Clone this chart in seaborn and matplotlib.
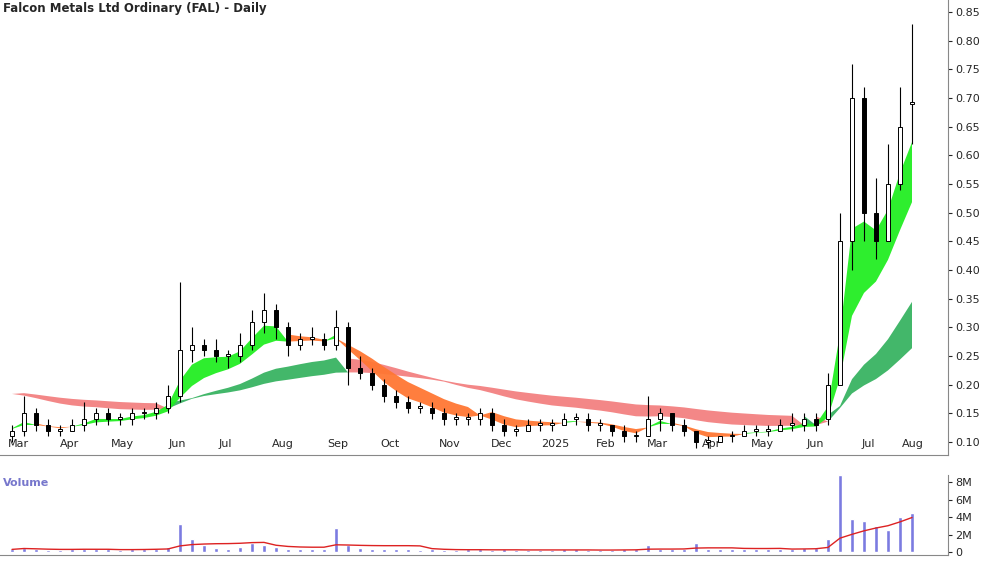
import matplotlib
matplotlib.use("Agg")
import matplotlib.pyplot as plt
import seaborn as sns
import numpy as np
import pandas as pd

# Weekly OHLC (Mar 2024 - Aug 2025)
opens = [0.11,0.12,0.15,0.13,0.12, 0.12,0.13,0.14,0.15, 0.14,0.14,0.15,0.15,0.16,
         0.18,0.26,0.27,0.26, 0.25,0.25,0.27,0.31, 0.33,0.30,0.27,0.28,0.28,
         0.27,0.30,0.23,0.22, 0.20,0.18,0.17,0.16, 0.16,0.15,0.14,0.14,
         0.14,0.15,0.13,0.12, 0.12,0.13,0.13,0.13, 0.14,0.14,0.13,0.13,
         0.12,0.11,0.11,0.14,0.15, 0.13,0.12,0.10,0.10, 0.11,0.11,0.12,0.12,
         0.12,0.13,0.13,0.14, 0.14,0.20,0.45,0.70,0.50, 0.45,0.55,0.69]
highs = [0.13,0.18,0.16,0.14,0.13, 0.14,0.17,0.16,0.16, 0.15,0.16,0.16,0.17,0.20,
         0.38,0.30,0.28,0.28, 0.26,0.29,0.33,0.36, 0.34,0.31,0.29,0.30,0.29,
         0.33,0.31,0.25,0.23, 0.21,0.19,0.18,0.17, 0.17,0.16,0.15,0.15,
         0.16,0.16,0.14,0.13, 0.14,0.14,0.14,0.15, 0.15,0.15,0.14,0.13,
         0.13,0.12,0.18,0.16,0.15, 0.14,0.12,0.11,0.11, 0.12,0.13,0.13,0.13,
         0.14,0.15,0.15,0.15, 0.22,0.50,0.76,0.72,0.56, 0.62,0.72,0.83]
lows  = [0.10,0.11,0.12,0.11,0.11, 0.12,0.12,0.13,0.13, 0.13,0.13,0.14,0.14,0.15,
         0.17,0.24,0.25,0.24, 0.23,0.24,0.26,0.29, 0.28,0.25,0.26,0.27,0.26,
         0.26,0.20,0.21,0.19, 0.17,0.16,0.15,0.15, 0.14,0.13,0.13,0.13,
         0.13,0.12,0.11,0.11, 0.12,0.12,0.12,0.13, 0.13,0.12,0.12,0.11,
         0.10,0.10,0.11,0.12,0.12, 0.11,0.09,0.09,0.10, 0.10,0.11,0.11,0.11,
         0.12,0.12,0.12,0.12, 0.13,0.32,0.40,0.45,0.42, 0.45,0.54,0.62]
closes = [0.12,0.15,0.13,0.12,0.12, 0.13,0.14,0.15,0.14, 0.14,0.15,0.15,0.16,0.18,
          0.26,0.27,0.26,0.25, 0.25,0.27,0.31,0.33, 0.30,0.27,0.28,0.28,0.27,
          0.30,0.23,0.22,0.20, 0.18,0.17,0.16,0.16, 0.15,0.14,0.14,0.14,
          0.15,0.13,0.12,0.12, 0.13,0.13,0.13,0.14, 0.14,0.13,0.13,0.12,
          0.11,0.11,0.14,0.15,0.13, 0.12,0.10,0.10,0.11, 0.11,0.12,0.12,0.12,
          0.13,0.13,0.14,0.13, 0.20,0.45,0.70,0.50,0.45, 0.55,0.65,0.69]
volumes = [0.3,0.5,0.3,0.2,0.2, 0.3,0.4,0.3,0.3, 0.2,0.3,0.3,0.4,0.6,
           3.2,1.5,0.8,0.5, 0.4,0.6,1.0,0.8, 0.6,0.4,0.3,0.3,0.4,
           2.8,0.8,0.5,0.4, 0.3,0.3,0.3,0.2, 0.3,0.2,0.2,0.3,
           0.3,0.2,0.3,0.2, 0.2,0.2,0.2,0.3, 0.3,0.2,0.2,0.2,
           0.3,0.3,0.8,0.4,0.3, 0.3,1.0,0.4,0.3, 0.3,0.3,0.3,0.3,
           0.4,0.4,0.5,0.5, 1.5,8.8,3.8,3.5,3.0, 2.5,4.0,4.5]
month_labels = ["Mar","Apr","May","Jun","Jul","Aug","Sep","Oct","Nov","Dec",
                "2025","Feb","Mar","Apr","May","Jun","Jul","Aug"]
month_px = [18,70,122,177,225,283,338,390,450,502,555,606,657,712,762,815,868,913]

sns.set_style("white")
plt.rcParams['font.family'] = ['DejaVu Sans']

df = pd.DataFrame(dict(o=opens, h=highs, l=lows, c=closes, v=volumes))
x = np.arange(len(df))
seeded = pd.Series([0.125] * 3 + closes)
short = np.array([seeded.ewm(span=k, adjust=False).mean().values[3:] for k in [3.5, 4, 5, 6, 7, 8]])
seeded_l = pd.Series([0.19] * 6 + closes)
long_ = np.array([seeded_l.ewm(span=k, adjust=False).mean().values[6:]
                  for k in [22, 26, 30, 34, 38, 44]])

fig = plt.figure(figsize=(10, 5.62), dpi=100)
ax = fig.add_axes([0.0, 0.19, 0.948, 0.81])
axv = fig.add_axes([0.0, 0.0125, 0.948, 0.142], sharex=ax)

def band(arr, up_c, dn_c, alpha=1):
    lo, hi = arr.min(0), arr.max(0)
    mid = arr.mean(0)
    rising = np.r_[True, np.diff(mid) >= 0]
    ax.fill_between(x, lo, hi, where=rising, color=up_c, interpolate=True, lw=0, alpha=alpha)
    ax.fill_between(x, lo, hi, where=~rising, color=dn_c, interpolate=True, lw=0, alpha=alpha)

band(long_, "#2eaf5a", "#f27a7a", 0.9)
band(short, "#22ee22", "#ff7733", 0.95)

up = df.c >= df.o
ax.vlines(x, df.l, df.h, color="black", lw=0.8, zorder=3)
ax.bar(x[up], (df.c - df.o)[up].clip(lower=0.003), bottom=df.o[up], width=0.35,
       facecolor="white", edgecolor="black", lw=0.7, zorder=4)
ax.bar(x[~up], (df.o - df.c)[~up], bottom=df.c[~up], width=0.35,
       facecolor="black", edgecolor="black", lw=0.7, zorder=4)

ax.set_xlim(-1, 78)
ax.set_ylim(0.077, 0.871)
ax.yaxis.tick_right()
ax.set_yticks(np.arange(0.10, 0.86, 0.05))
ax.set_yticklabels([f"{v:.2f}" for v in np.arange(0.10, 0.86, 0.05)], fontsize=8)
ticks = [p / 12 - 1 for p in month_px]
ax.set_xticks(ticks)
ax.set_xticklabels(month_labels, fontsize=8)
ax.tick_params(axis='x', pad=-12, length=0)
ax.tick_params(axis='y', length=3, pad=2)
for a in (ax, axv):
    for sp in a.spines.values():
        sp.set_color("#888888")
        sp.set_linewidth(0.8)
    a.spines['top'].set_visible(False)
    a.spines['left'].set_visible(False)
ax.text(0.003, 0.995, "Falcon Metals Ltd Ordinary (FAL) - Daily", transform=ax.transAxes,
        fontsize=8.5, fontweight="bold", va="top", ha="left")

axv.bar(x, df.v, width=0.3, color="#7b7be0")
vma = df.v.rolling(8, min_periods=1).mean()
sns.lineplot(x=x, y=vma, ax=axv, color="#dd2222", lw=1)
axv.set_ylim(-0.34, 8.8)
axv.yaxis.tick_right()
axv.set_yticks([0, 2, 4, 6, 8])
axv.set_yticklabels(["0", "2M", "4M", "6M", "8M"], fontsize=8)
axv.tick_params(axis='x', labelbottom=False, length=0)
axv.tick_params(axis='y', length=3, pad=2)
axv.set_ylabel("")
axv.text(0.003, 0.97, "Volume", transform=axv.transAxes, fontsize=8, color="#7777cc",
         fontweight="bold", va="top")

fig.savefig("out.png", dpi=100)
